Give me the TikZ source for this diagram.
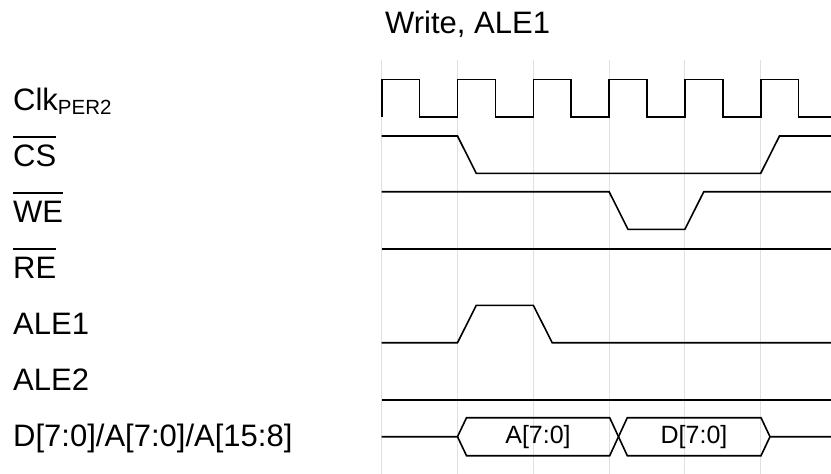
\documentclass[tikz,border=0pt]{standalone}
\usepackage{fontspec}
\setmainfont{Liberation Sans}
\newcommand\ovl[1]{\setbox0\hbox{#1}\rlap{\rule[28.5pt]{\wd0}{1.4pt}}\box0}
\tikzset{
  lbl/.style={anchor=base west, inner sep=0pt, font=\fontsize{31}{36}\selectfont},
  buslbl/.style={anchor=center, inner sep=0pt, font=\fontsize{25}{29}\selectfont},
  sig/.style={line width=1.6pt, line join=miter, black},
  grid/.style={line width=1pt, color=black!12},
}
\begin{document}
\begin{tikzpicture}[x=1pt,y=-1pt]
\useasboundingbox (0,0) rectangle (831,474);
% grid lines
\foreach \i in {0,...,5} {
  \draw[grid] ({381.7+75.8*\i},60) -- ({381.7+75.8*\i},474);
}
% title
\node[lbl] (title) at (385,33.3) {Write, ALE1};
% labels
\node[lbl] (clk) at (13,110) {Clk\raisebox{-4.5pt}{\fontsize{20.5}{24}\selectfont PER2}};
\node[lbl] (cs) at (13,166) {\ovl{CS}};
\node[lbl] (we) at (13,222) {\ovl{WE}};
\node[lbl] (re) at (13,278) {\ovl{RE}};
\node[lbl] (ale1) at (13,334) {ALE1};
\node[lbl] (ale2) at (13,390) {ALE2};
\node[lbl] (bus) at (13,446) {D[7:0]/A[7:0]/A[15:8]};
% clock
\draw[sig] (381.7,116.7)
  \foreach \i in {0,...,5} {
    -- ({381.7+75.8*\i},79.3) -- ({381.7+75.8*\i+37.9},79.3)
    -- ({381.7+75.8*\i+37.9},116.7) -- ({381.7+75.8*\i+75.8},116.7)
  } -- (831,116.7);
% CS
\draw[sig] (381.7,136) -- (457.5,136) -- (476.2,173.3) -- (760.7,173.3) -- (779.5,136) -- (831,136);
% WE
\draw[sig] (381.7,191.7) -- (609.1,191.7) -- (628,229.3) -- (684.9,229.3) -- (703.8,191.7) -- (831,191.7);
% RE
\draw[sig] (381.7,249) -- (831,249);
% ALE1
\draw[sig] (381.7,342.7) -- (457.5,342.7) -- (476.3,305.3) -- (533.3,305.3) -- (552.2,342.7) -- (831,342.7);
% ALE2
\draw[sig] (381.7,400) -- (831,400);
% bus
\draw[sig] (381.7,436.7) -- (457.5,436.7) -- (466.5,417.7) -- (609.7,417.7) -- (627.3,455.7) -- (761,455.7) -- (770,436.7) -- (831,436.7);
\draw[sig] (457.5,436.7) -- (466.5,455.7) -- (609.7,455.7) -- (627.3,417.7) -- (761,417.7) -- (770,436.7);
\node[buslbl] (va) at (538,436.7) {A[7:0]};
\node[buslbl] (vd) at (694,436.7) {D[7:0]};
\end{tikzpicture}
\end{document}
